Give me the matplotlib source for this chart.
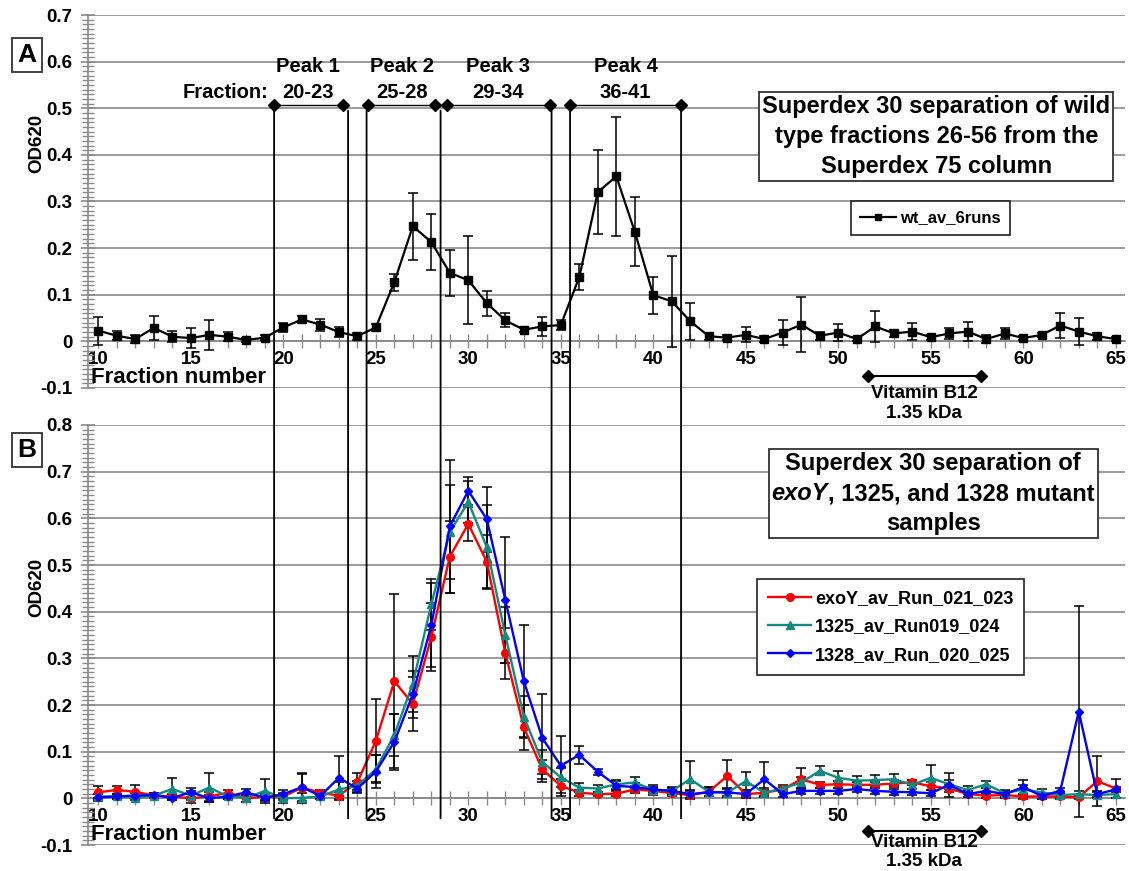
import numpy as np
import matplotlib
matplotlib.use("Agg")
import matplotlib.pyplot as plt
from matplotlib.patches import ConnectionPatch
from matplotlib.offsetbox import TextArea, VPacker, HPacker, AnchoredOffsetbox
from matplotlib.ticker import MultipleLocator, FormatStrFormatter

plt.rcParams['font.family'] = ['Liberation Sans', 'DejaVu Sans']
plt.rcParams['font.weight'] = 'bold'

# ---------------- data ----------------
fractions = list(range(10, 66))

wt_mean = [0.023, 0.012, 0.005, 0.029, 0.010, 0.007, 0.014, 0.010, 0.003, 0.008,
           0.030, 0.047, 0.036, 0.020, 0.011, 0.030, 0.127, 0.247, 0.213, 0.147,
           0.131, 0.082, 0.045, 0.025, 0.032, 0.035, 0.138, 0.320, 0.354, 0.235,
           0.099, 0.086, 0.043, 0.011, 0.008, 0.014, 0.005, 0.019, 0.036, 0.012,
           0.019, 0.005, 0.032, 0.017, 0.021, 0.009, 0.017, 0.021, 0.005, 0.017,
           0.007, 0.014, 0.034, 0.021, 0.011, 0.005]
wt_err = [0.030, 0.010, 0.008, 0.026, 0.012, 0.022, 0.032, 0.010, 0.004, 0.005,
          0.010, 0.008, 0.013, 0.010, 0.008, 0.008, 0.018, 0.072, 0.060, 0.050,
          0.094, 0.027, 0.015, 0.005, 0.021, 0.010, 0.028, 0.090, 0.127, 0.074,
          0.040, 0.098, 0.040, 0.007, 0.006, 0.016, 0.006, 0.027, 0.059, 0.008,
          0.019, 0.005, 0.034, 0.008, 0.018, 0.005, 0.011, 0.021, 0.008, 0.012,
          0.005, 0.005, 0.027, 0.029, 0.008, 0.005]

exoY_mean = [0.013, 0.018, 0.014, 0.006, 0.004, 0.000, 0.004, 0.012, 0.000, 0.004,
             0.004, 0.023, 0.012, 0.006, 0.034, 0.123, 0.251, 0.202, 0.346, 0.518,
             0.588, 0.507, 0.311, 0.152, 0.062, 0.027, 0.012, 0.009, 0.010, 0.019,
             0.016, 0.011, 0.007, 0.014, 0.048, 0.009, 0.012, 0.019, 0.041, 0.029,
             0.030, 0.029, 0.029, 0.032, 0.034, 0.026, 0.021, 0.009, 0.006, 0.007,
             0.004, 0.004, 0.004, 0.002, 0.037, 0.021]
exoY_err = [0.013, 0.008, 0.014, 0.005, 0.005, 0.010, 0.010, 0.006, 0.008, 0.008,
            0.008, 0.030, 0.006, 0.008, 0.020, 0.089, 0.186, 0.058, 0.073, 0.077,
            0.037, 0.057, 0.055, 0.049, 0.020, 0.015, 0.006, 0.005, 0.006, 0.008,
            0.006, 0.006, 0.008, 0.010, 0.034, 0.005, 0.006, 0.006, 0.024, 0.006,
            0.008, 0.006, 0.006, 0.008, 0.006, 0.008, 0.008, 0.006, 0.006, 0.006,
            0.005, 0.005, 0.005, 0.004, 0.054, 0.020]

m1325_mean = [0.004, 0.004, 0.001, 0.006, 0.020, 0.006, 0.023, 0.004, 0.001, 0.016,
              0.000, 0.001, 0.004, 0.019, 0.027, 0.062, 0.136, 0.246, 0.416, 0.571,
              0.635, 0.538, 0.350, 0.175, 0.078, 0.045, 0.023, 0.021, 0.030, 0.034,
              0.018, 0.016, 0.041, 0.014, 0.012, 0.037, 0.012, 0.021, 0.034, 0.059,
              0.044, 0.038, 0.039, 0.041, 0.029, 0.044, 0.030, 0.018, 0.030, 0.011,
              0.019, 0.013, 0.007, 0.009, 0.007, 0.009]
m1325_err = [0.005, 0.005, 0.005, 0.005, 0.024, 0.010, 0.031, 0.005, 0.008, 0.025,
             0.010, 0.010, 0.005, 0.015, 0.010, 0.030, 0.045, 0.060, 0.055, 0.100,
             0.045, 0.090, 0.060, 0.045, 0.025, 0.020, 0.010, 0.008, 0.010, 0.012,
             0.010, 0.008, 0.040, 0.010, 0.010, 0.020, 0.010, 0.008, 0.012, 0.010,
             0.014, 0.010, 0.012, 0.012, 0.010, 0.027, 0.010, 0.008, 0.008, 0.006,
             0.010, 0.006, 0.006, 0.006, 0.006, 0.008]

m1328_mean = [0.002, 0.004, 0.006, 0.007, 0.001, 0.013, 0.000, 0.004, 0.013, 0.001,
              0.009, 0.024, 0.005, 0.044, 0.021, 0.057, 0.121, 0.223, 0.371, 0.583,
              0.659, 0.598, 0.425, 0.251, 0.129, 0.070, 0.093, 0.057, 0.027, 0.024,
              0.019, 0.016, 0.009, 0.013, 0.013, 0.009, 0.041, 0.009, 0.016, 0.016,
              0.016, 0.020, 0.016, 0.014, 0.013, 0.011, 0.029, 0.009, 0.016, 0.009,
              0.024, 0.005, 0.016, 0.186, 0.009, 0.019]
m1328_err = [0.008, 0.006, 0.006, 0.005, 0.005, 0.010, 0.008, 0.006, 0.008, 0.006,
             0.008, 0.030, 0.006, 0.047, 0.010, 0.035, 0.060, 0.050, 0.090, 0.143,
             0.030, 0.070, 0.134, 0.120, 0.094, 0.064, 0.020, 0.006, 0.010, 0.008,
             0.006, 0.006, 0.008, 0.008, 0.008, 0.008, 0.036, 0.006, 0.006, 0.006,
             0.006, 0.006, 0.006, 0.006, 0.006, 0.006, 0.026, 0.006, 0.006, 0.006,
             0.015, 0.006, 0.006, 0.226, 0.006, 0.006]

peak_bounds = [19.5, 23.5, 24.5, 28.5, 34.5, 35.5, 41.5]
peak_names = ["Peak 1", "Peak 2", "Peak 3", "Peak 4"]
peak_ranges = ["20-23", "25-28", "29-34", "36-41"]
peak_diamonds = [(19.5, 23.2), (24.6, 28.2), (28.85, 34.4), (35.5, 41.5)]
vitb12_span = (51.6, 57.7)

# ---------------- figure ----------------
fig = plt.figure(figsize=(11.29, 8.71), dpi=100)
W, H = 1129, 871
def ax_rect(l, r, t, b):
    return [l / W, 1 - b / H, (r - l) / W, (b - t) / H]

axA = fig.add_axes(ax_rect(88, 1125, 15, 388))
axB = fig.add_axes(ax_rect(88, 1125, 425, 845))

grid_c = '#8a8a8a'
for ax, ymax in ((axA, 0.7), (axB, 0.8)):
    ax.set_xlim(9.44, 65.5)
    ax.set_ylim(-0.1, ymax)
    for s in ('top', 'right'):
        ax.spines[s].set_visible(False)
    ax.spines['bottom'].set_position(('data', 0))
    ax.spines['bottom'].set_color(grid_c)
    ax.spines['left'].set_color(grid_c)
    ax.spines['left'].set_linewidth(1.2)
    ax.spines['bottom'].set_linewidth(1.2)
    ax.yaxis.set_major_locator(MultipleLocator(0.1))
    ax.yaxis.set_minor_locator(MultipleLocator(0.01))
    ax.yaxis.set_major_formatter(FormatStrFormatter('%g'))
    ax.xaxis.set_major_locator(MultipleLocator(5))
    ax.xaxis.set_minor_locator(MultipleLocator(1))
    ax.tick_params(axis='y', which='major', direction='inout', length=10, width=1.2,
                   color=grid_c, labelsize=13.5, pad=6)
    ax.tick_params(axis='y', which='minor', direction='inout', length=8, width=1,
                   color=grid_c)
    ax.tick_params(axis='x', which='both', direction='inout', length=10, width=1,
                   color=grid_c, labelsize=13.5, pad=2)
    for lab in ax.get_xticklabels() + ax.get_yticklabels():
        lab.set_fontweight('bold')
    ax.grid(True, axis='y', which='major', color=grid_c, lw=1.2)
    ax.set_axisbelow(True)
    ax.set_ylabel('OD620', fontsize=13.5, fontweight='bold')
    ax.text(9.6, -0.078, 'Fraction number', fontsize=16, fontweight='bold',
            ha='left', va='center')

axA.yaxis.set_label_coords(-0.041, 0.657)
axB.yaxis.set_label_coords(-0.041, 0.614)

# ---- Panel A data ----
axA.errorbar(fractions, wt_mean, yerr=wt_err, fmt='none', ecolor='black',
             elinewidth=1.1, capsize=3.5, capthick=1.1, zorder=3)
lineA, = axA.plot(fractions, wt_mean, color='black', lw=1.6, marker='s',
                  markersize=6, zorder=4, label='wt_av_6runs')

# ---- Panel B data ----
series_B = [
    (exoY_mean, exoY_err, '#ff0000', 'o', 5.5, 'exoY_av_Run_021_023'),
    (m1325_mean, m1325_err, '#138a80', '^', 5.5, '1325_av_Run019_024'),
    (m1328_mean, m1328_err, '#0000ff', 'D', 4.5, '1328_av_Run_020_025'),
]
for mean, err, col, mk, ms, lab in series_B:
    axB.errorbar(fractions, mean, yerr=err, fmt='none', ecolor='black',
                 elinewidth=1.1, capsize=3.5, capthick=1.1, zorder=3)
handlesB = []
for mean, err, col, mk, ms, lab in series_B:
    h, = axB.plot(fractions, mean, color=col, lw=1.7, marker=mk, markersize=ms,
                  zorder=4, label=lab)
    handlesB.append(h)

# ---- legends ----
legA = axA.legend(handles=[lineA], loc='center', bbox_to_anchor=(0.812, 0.456),
                  frameon=True, fancybox=False, edgecolor='#222222', framealpha=1,
                  prop={'size': 12, 'weight': 'bold'}, handlelength=2.2,
                  markerscale=0.7, borderpad=0.55, handletextpad=0.2)
legA.get_frame().set_linewidth(1.2)
legB = axB.legend(handles=handlesB, loc='center', bbox_to_anchor=(0.774, 0.519),
                  frameon=True, fancybox=False, edgecolor='#222222', framealpha=1,
                  prop={'size': 13, 'weight': 'bold'}, handlelength=2.4,
                  labelspacing=0.62, borderpad=0.6, handletextpad=0.2,
                  borderaxespad=0)
legB.get_frame().set_linewidth(1.2)

# ---- title boxes ----
def title_box(ax, rows, xy):
    children = []
    for row in rows:
        parts = [TextArea(t, textprops=dict(fontsize=17, fontweight='bold', style=st))
                 for t, st in row]
        if len(parts) == 1:
            children.append(parts[0])
        else:
            children.append(HPacker(children=parts, align='baseline', pad=0, sep=0))
    vp = VPacker(children=children, align='center', pad=0, sep=5)
    box = AnchoredOffsetbox(loc='center', child=vp, pad=0.22, borderpad=0,
                            frameon=True, bbox_to_anchor=xy,
                            bbox_transform=ax.transAxes)
    box.patch.set_boxstyle('square', pad=0)
    box.patch.set_edgecolor('#333333')
    box.patch.set_linewidth(1.3)
    box.set_zorder(6)
    ax.add_artist(box)

title_box(axA, [[("Superdex 30 separation of wild", 'normal')],
                [("type fractions 26-56 from the", 'normal')],
                [("Superdex 75 column", 'normal')]], (0.818, 0.674))
title_box(axB, [[("Superdex 30 separation of", 'normal')],
                [("exoY", 'italic'), (", 1325, and 1328 mutant", 'normal')],
                [("samples", 'normal')]], (0.815, 0.836))

# ---- peak annotations (panel A) ----
for (x0, x1) in peak_diamonds:
    axA.plot([x0, x1], [0.508, 0.508], color='black', lw=1.0, marker='D',
             markersize=6, clip_on=False, zorder=5)
for name, rng, (x0, x1) in zip(peak_names, peak_ranges, peak_diamonds):
    xc = (x0 + x1) / 2
    axA.text(xc, 0.589, name, ha='center', va='center', fontsize=14.5,
             fontweight='bold')
    axA.text(xc, 0.534, rng, ha='center', va='center', fontsize=14.5,
             fontweight='bold')
axA.text(19.2, 0.534, 'Fraction:', ha='right', va='center', fontsize=14.5,
         fontweight='bold')

# vertical separator lines spanning both panels
for xb in peak_bounds:
    con = ConnectionPatch(xyA=(xb, 0.495), coordsA=axA.transData,
                          xyB=(xb, -0.043), coordsB=axB.transData,
                          color='black', lw=1.3, zorder=5)
    fig.add_artist(con)

# ---- Vitamin B12 markers ----
for ax, ybar, yt1, yt2 in ((axA, -0.075, -0.111, -0.154), (axB, -0.069, -0.095, -0.136)):
    ax.plot(vitb12_span, [ybar, ybar], color='black', lw=1.5, marker='D',
            markersize=6, clip_on=False, zorder=5)
    xc = sum(vitb12_span) / 2
    ax.text(xc, yt1, 'Vitamin B12', ha='center', va='center', fontsize=13.5,
            fontweight='bold', clip_on=False)
    ax.text(xc, yt2, '1.35 kDa', ha='center', va='center', fontsize=13.5,
            fontweight='bold', clip_on=False)

# ---- panel letters ----
for letter, yc in (('A', 55), ('B', 450)):
    fig.text(27 / W, 1 - yc / H, letter, fontsize=19, fontweight='bold',
             ha='center', va='center',
             bbox=dict(boxstyle='square,pad=0.2', fc='white', ec='#333333', lw=1.3))

fig.savefig('out.png', dpi=100)
